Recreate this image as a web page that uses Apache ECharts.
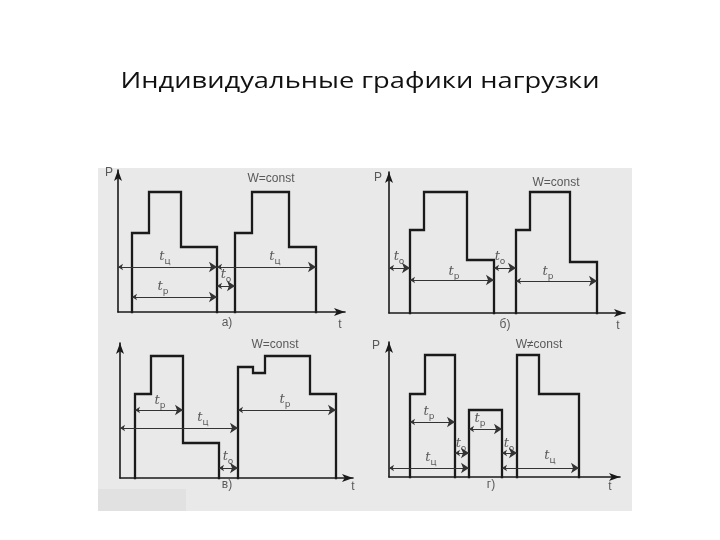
<!DOCTYPE html>
<html><head><meta charset="utf-8">
<script src="https://cdn.jsdelivr.net/npm/echarts@6/dist/echarts.min.js"></script>
<style>html,body{margin:0;background:#fff}#c{width:720px;height:540px}</style>
</head><body><div id="c"></div><script>
const titleText = 'Индивидуальные графики нагрузки';

// Panel а) — load profiles [t, P]
const aLoad1 = [[14,0],[14,79],[31,79],[31,120],[63,120],[63,65],[99,65],[99,0]];
const aLoad2 = [[117,0],[117,79],[134,79],[134,120],[171,120],[171,65],[198,65],[198,0]];
const aDims = [[0,99,45],[99,198,45],[14,99,15],[99,117,26]];          // [t1, t2, level]
const aSubs = [[47,55,'ц'],[157,55,'ц'],[45,25,'р'],[108,37,'о']];
const aTexts = [[153,133,'W=const'],[-9,139,'P'],[109,-11,'а)'],[222,-13,'t']];

// Panel б)
const bLoad1 = [[21,0],[21,83],[35,83],[35,121],[78,121],[78,53],[105,53],[105,0]];
const bLoad2 = [[127,0],[127,83],[141,83],[141,121],[181,121],[181,51],[208,51],[208,0]];
const bDims = [[0,21,45],[21,105,33],[105,127,45],[127,208,32]];
const bSubs = [[10,56,'о'],[65,41,'р'],[111,56,'о'],[159,41,'р']];
const bTexts = [[167,130,'W=const'],[-11,135,'P'],[116,-12,'б)'],[229,-13,'t']];

// Panel в)
const cLoad1 = [[15,0],[15,84],[31,84],[31,122],[63,122],[63,35],[99,35],[99,0]];
const cLoad2 = [[118,0],[118,111],[133,111],[133,105],[145,105],[145,122],[190,122],[190,84],[216,84],[216,0]];
const cDims = [[15,63,68],[0,118,50],[99,118,10],[118,216,68]];
const cSubs = [[40,77,'р'],[83,60,'ц'],[108,21,'о'],[165,78,'р']];
const cTexts = [[155,133,'W=const'],[107,-7,'в)'],[233,-9,'t']];

// Panel г)
const dLoad1 = [[21,0],[21,83],[36,83],[36,122],[66,122],[66,0]];
const dLoad2 = [[80,0],[80,67],[113,67],[113,0]];
const dLoad3 = [[128,0],[128,122],[150,122],[150,83],[190,83],[190,0]];
const dDims = [[21,66,55],[66,80,24],[80,113,48],[113,128,24],[0,80,9],[113,190,9]];
const dSubs = [[40,65,'р'],[72,33,'о'],[91,58,'р'],[120,33,'о'],[42,19,'ц'],[161,21,'ц']];
const dTexts = [[150,132,'W≠const'],[-13,131,'P'],[102,-8,'г)'],[221,-10,'t']];

// axis extents (t, P)
const axisT = [227, 236, 233, 231];
const axisP = [142, 141, 135, 135];

const panels = [
  {loads:[aLoad1,aLoad2], dims:aDims, subs:aSubs, texts:aTexts},
  {loads:[bLoad1,bLoad2], dims:bDims, subs:bSubs, texts:bTexts},
  {loads:[cLoad1,cLoad2], dims:cDims, subs:cSubs, texts:cTexts},
  {loads:[dLoad1,dLoad2,dLoad3], dims:dDims, subs:dSubs, texts:dTexts}
];
const gridBoxes = [
  {left:118, top:170, width:227, height:142},
  {left:389, top:172, width:236, height:141},
  {left:120, top:343, width:233, height:135},
  {left:389, top:342, width:231, height:135}
];

const ink = '#1a1a1a';
const axLine = {show:true, onZero:false, symbol:['none','arrow'], symbolSize:[6,11], lineStyle:{color:ink, width:1.6}};
const xAxes = [], yAxes = [], series = [];
panels.forEach((p, i) => {
  xAxes.push({gridIndex:i, type:'value', min:0, max:axisT[i], axisLine:axLine, axisTick:{show:false}, axisLabel:{show:false}, splitLine:{show:false}});
  yAxes.push({gridIndex:i, type:'value', min:0, max:axisP[i], axisLine:axLine, axisTick:{show:false}, axisLabel:{show:false}, splitLine:{show:false}});
  p.loads.forEach(ld => series.push({type:'line', xAxisIndex:i, yAxisIndex:i, data:ld, symbol:'none', clip:false,
    lineStyle:{color:ink, width:2.3, cap:'square', join:'miter'}, z:3}));
  series.push({type:'lines', coordinateSystem:'cartesian2d', xAxisIndex:i, yAxisIndex:i,
    symbol:['arrow','arrow'], symbolSize:[5,8], lineStyle:{color:'#333', width:1, opacity:1},
    data:p.dims.map(d => ({coords:[[d[0],d[2]],[d[1],d[2]]]})), z:4});
  series.push({type:'scatter', xAxisIndex:i, yAxisIndex:i, clip:false, symbolSize:1, itemStyle:{color:'rgba(0,0,0,0)'},
    data:p.subs.map(s => ({value:[s[0],s[1]], sub:s[2]})),
    label:{show:true, position:'inside', formatter: q => '{t|t}{s|' + q.data.sub + '}',
      rich:{t:{fontStyle:'italic', fontSize:13, color:'#333', fontFamily:'DejaVu Serif', verticalAlign:'bottom'},
            s:{fontSize:9, color:'#333', fontFamily:'DejaVu Sans', verticalAlign:'bottom', padding:[0,0,-3,0]}}}, z:5});
  series.push({type:'scatter', xAxisIndex:i, yAxisIndex:i, clip:false, symbolSize:1, itemStyle:{color:'rgba(0,0,0,0)'},
    data:p.texts.map(s => ({value:[s[0],s[1]], txt:s[2]})),
    label:{show:true, position:'inside', formatter: q => q.data.txt, color:'#333', fontSize:12, fontFamily:'Liberation Sans'}, z:5});
});

const chart = echarts.init(document.getElementById('c'));
chart.setOption({
  animation:false,
  backgroundColor:'#ffffff',
  graphic:[
    {type:'rect', z:-10, shape:{x:98, y:168, width:534, height:343}, style:{fill:'#e9e9e9'}},
    {type:'rect', z:-9, shape:{x:98, y:489, width:88, height:22}, style:{fill:'#e1e1e1'}},
    {type:'text', x:360, y:82, scaleX:1.24, z:10,
     style:{text:titleText, fontSize:22, fontFamily:'Open Sans', fill:'#111', align:'center', verticalAlign:'middle', textAlign:'center', textVerticalAlign:'middle'}}
  ],
  grid:gridBoxes,
  xAxis:xAxes, yAxis:yAxes, series:series
});
</script></body></html>
